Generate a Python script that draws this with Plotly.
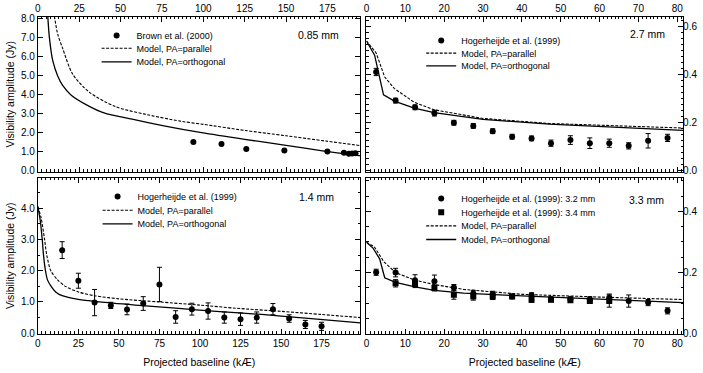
import plotly.graph_objects as go

# ---- 0.85 mm (Brown et al. 2000) ----
b085_x = [94, 111, 126, 149, 175, 185, 188, 190, 192]
b085_y = [1.52, 1.41, 1.15, 1.07, 1.02, 0.95, 0.90, 0.91, 0.93]
b085_err = [0.03, 0.03, 0.03, 0.03, 0.03, 0.03, 0.03, 0.03, 0.03]
m085_par_x = [10, 12, 15, 21, 31, 47, 64, 86, 100, 125, 150, 174, 196]
m085_par_y = [8.15, 7.2, 6.45, 5.1, 4.15, 3.38, 3.0, 2.62, 2.45, 2.13, 1.85, 1.57, 1.32]
m085_ort_x = [6, 7, 9, 12, 15, 20, 30, 40, 57, 77, 99, 125, 149, 174, 196]
m085_ort_y = [8.15, 7.0, 5.8, 5.0, 4.5, 4.0, 3.45, 3.05, 2.72, 2.36, 2.01, 1.66, 1.36, 1.03, 0.78]

# ---- 2.7 mm (Hogerheijde et al. 1999) ----
h27_x = [2.5, 7.5, 12.5, 17.5, 22.5, 27.5, 32.5, 37.5, 42.5, 47.5, 52.5, 57.5, 62.5, 67.5, 72.5, 77.5]
h27_y = [0.41, 0.291, 0.263, 0.239, 0.199, 0.186, 0.164, 0.141, 0.134, 0.114, 0.127, 0.114, 0.114, 0.103, 0.124, 0.136]
h27_err = [0.015, 0.01, 0.01, 0.012, 0.01, 0.01, 0.01, 0.01, 0.01, 0.013, 0.018, 0.022, 0.017, 0.013, 0.03, 0.015]
m27_par_x = [0, 2.5, 4.7, 7.2, 12.3, 17.4, 30, 47, 81.5]
m27_par_y = [0.539, 0.489, 0.389, 0.341, 0.284, 0.253, 0.217, 0.196, 0.177]
m27_ort_x = [0, 2.1, 4.4, 7.2, 12.3, 17.4, 30, 47, 81.5]
m27_ort_y = [0.539, 0.48, 0.315, 0.289, 0.26, 0.241, 0.213, 0.193, 0.167]

# ---- 1.4 mm (Hogerheijde et al. 1999) ----
h14_x = [15, 25, 35, 45, 55, 65, 75, 85, 95, 105, 115, 125, 135, 145, 155, 165, 175]
h14_y = [2.66, 1.68, 0.98, 0.89, 0.76, 0.95, 1.56, 0.52, 0.77, 0.71, 0.50, 0.45, 0.50, 0.77, 0.47, 0.28, 0.22]
h14_err = [0.27, 0.24, 0.42, 0.10, 0.17, 0.22, 0.55, 0.20, 0.19, 0.26, 0.18, 0.20, 0.18, 0.18, 0.12, 0.13, 0.13]
m14_par_x = [0, 2, 4, 5.5, 8, 12, 17, 25, 35, 50, 75, 100, 122, 150, 175, 199]
m14_par_y = [4.05, 3.7, 3.05, 2.5, 2.0, 1.72, 1.5, 1.32, 1.2, 1.1, 1.0, 0.9, 0.8, 0.7, 0.6, 0.5]
m14_ort_x = [0, 1.5, 2.7, 3.5, 4.7, 6, 8.2, 11, 15, 25, 38, 60, 85, 110, 138, 165, 199]
m14_ort_y = [4.05, 3.6, 3.0, 2.5, 2.0, 1.7, 1.5, 1.32, 1.2, 1.08, 1.0, 0.9, 0.8, 0.7, 0.6, 0.48, 0.33]

# ---- 3.3 mm (Hogerheijde et al. 1999: 3.2 mm and 3.4 mm) ----
h32_x = [2.5, 7.5, 12.5, 17.5, 22.5, 27.5, 32.5, 37.5, 42.5, 47.5, 52.5, 57.5, 62.5, 67.5, 72.5, 77.5]
h32_y = [0.201, 0.2, 0.175, 0.172, 0.151, 0.132, 0.129, 0.122, 0.126, 0.113, 0.113, 0.113, 0.118, 0.107, 0.102, 0.075]
h32_err = [0.01, 0.014, 0.018, 0.02, 0.01, 0.01, 0.01, 0.007, 0.008, 0.008, 0.008, 0.008, 0.012, 0.02, 0.01, 0.01]
h34_x = [7.5, 12.5, 17.5, 22.5, 27.5, 32.5, 37.5, 42.5, 47.5, 52.5, 57.5, 62.5]
h34_y = [0.165, 0.163, 0.15, 0.128, 0.122, 0.122, 0.122, 0.111, 0.111, 0.11, 0.107, 0.107]
h34_err = [0.012, 0.012, 0.01, 0.015, 0.012, 0.01, 0.006, 0.008, 0.006, 0.006, 0.006, 0.02]
m33_par_x = [0, 2, 4.5, 7.5, 12.5, 17.5, 25, 40, 60, 81.5]
m33_par_y = [0.299, 0.285, 0.235, 0.2, 0.175, 0.161, 0.145, 0.129, 0.12, 0.112]
m33_ort_x = [0, 1.7, 3.4, 4.7, 7.5, 12.5, 17.5, 25, 40, 60, 81.5]
m33_ort_y = [0.299, 0.28, 0.245, 0.183, 0.168, 0.153, 0.142, 0.133, 0.124, 0.114, 0.102]

FONT = "Liberation Sans, Arial, sans-serif"
FW, FH = 703, 373


def px(sx):
    return sx / FW


def py(sy):
    return 1 - sy / FH


fig = go.Figure()
legends = {}


def add_legend(key, left, row_center):
    # one legend per entry so rows can sit closer than plotly's 19px minimum
    legends[key] = dict(x=px(left), y=py(row_center - 14.5), xanchor="left", yanchor="top",
                        font=dict(size=9, color="black", family=FONT), bgcolor="rgba(0,0,0,0)",
                        borderwidth=0, itemwidth=30)


def data_trace(x, y, err, name, xa, ya, leg, symbol="circle"):
    return go.Scatter(x=x, y=y, mode="markers", name=name, xaxis=xa, yaxis=ya, legend=leg,
                      marker=dict(color="black", size=6, symbol=symbol),
                      error_y=dict(type="data", array=err, color="black", thickness=1, width=2.5))


def model_trace(x, y, dash, name, xa, ya, leg, shape):
    return go.Scatter(x=x, y=y, mode="lines", name=name, xaxis=xa, yaxis=ya, legend=leg,
                      line=dict(color="black", width=1.1 if dash != "solid" else 1.3,
                                dash=dash, shape=shape, smoothing=0.8))


DASH = "3px,1.5px"
# panel 1
fig.add_trace(data_trace(b085_x, b085_y, b085_err, "Brown et al. (2000)", "x", "y", "legend"))
fig.add_trace(model_trace(m085_par_x, m085_par_y, DASH, "Model, PA=parallel", "x", "y", "legend2", "spline"))
fig.add_trace(model_trace(m085_ort_x, m085_ort_y, "solid", "Model, PA=orthogonal", "x", "y", "legend3", "spline"))
add_legend("legend", 94, 33)
add_legend("legend2", 94, 46)
add_legend("legend3", 94, 60)
# panel 2
fig.add_trace(data_trace(h27_x, h27_y, h27_err, "Hogerheijde et al. (1999)", "x2", "y2", "legend4"))
fig.add_trace(model_trace(m27_par_x, m27_par_y, DASH, "Model, PA=parallel", "x2", "y2", "legend5", "linear"))
fig.add_trace(model_trace(m27_ort_x, m27_ort_y, "solid", "Model, PA=orthogonal", "x2", "y2", "legend6", "linear"))
add_legend("legend4", 420, 38)
add_legend("legend5", 420, 51)
add_legend("legend6", 420, 64)
# panel 3
fig.add_trace(data_trace(h14_x, h14_y, h14_err, "Hogerheijde et al. (1999)", "x3", "y3", "legend7"))
fig.add_trace(model_trace(m14_par_x, m14_par_y, DASH, "Model, PA=parallel", "x3", "y3", "legend8", "spline"))
fig.add_trace(model_trace(m14_ort_x, m14_ort_y, "solid", "Model, PA=orthogonal", "x3", "y3", "legend9", "spline"))
add_legend("legend7", 95, 198)
add_legend("legend8", 95, 212)
add_legend("legend9", 95, 226)
# panel 4
fig.add_trace(data_trace(h32_x, h32_y, h32_err, "Hogerheijde et al. (1999): 3.2 mm", "x4", "y4", "legend10"))
fig.add_trace(data_trace(h34_x, h34_y, h34_err, "Hogerheijde et al. (1999): 3.4 mm", "x4", "y4", "legend11", "square"))
fig.add_trace(model_trace(m33_par_x, m33_par_y, DASH, "Model, PA=parallel", "x4", "y4", "legend12", "linear"))
fig.add_trace(model_trace(m33_ort_x, m33_ort_y, "solid", "Model, PA=orthogonal", "x4", "y4", "legend13", "linear"))
add_legend("legend10", 420, 200)
add_legend("legend11", 420, 214)
add_legend("legend12", 420, 228)
add_legend("legend13", 420, 242)


def ax(**kw):
    minor_dtick = kw.pop("minor_dtick", None)
    d = dict(showline=True, linecolor="black", linewidth=1, mirror="allticks", ticks="inside",
             ticklen=5, tickcolor="black", tickwidth=1, showgrid=False, zeroline=False,
             tickfont=dict(size=10, color="black", family=FONT), tick0=0)
    if minor_dtick:
        d["minor"] = dict(ticks="inside", ticklen=2.5, tickcolor="black", dtick=minor_dtick,
                          tick0=0, showgrid=False)
    d.update(kw)
    return d


xl = [px(35), px(359)]
xr = [px(365), px(683)]
yt = [py(173), py(14)]
yb = [py(339), py(179)]

ytitle = dict(text="Visibility amplitude (Jy)", font=dict(size=10.5, color="black", family=FONT), standoff=4)
xtitle = dict(text="Projected baseline (kÆ)", font=dict(size=10.5, color="black", family=FONT), standoff=10)

fig.update_layout(
    width=FW, height=FH,
    margin=dict(l=0, r=0, t=0, b=0),
    paper_bgcolor="white", plot_bgcolor="white",
    font=dict(family=FONT, color="black", size=10),
    xaxis=ax(domain=xl, range=[0, 195], dtick=25, minor_dtick=2.5, side="top", anchor="y"),
    yaxis=ax(domain=yt, range=[-0.05, 8.12], dtick=1, tickformat=".1f", anchor="x", title=ytitle),
    xaxis2=ax(domain=xr, range=[0, 81.5], dtick=10, minor_dtick=1, side="top", anchor="y2"),
    yaxis2=ax(domain=yt, range=[-0.005, 0.64], dtick=0.2, minor_dtick=0.025, tickformat=".1f",
              side="right", anchor="x2", ticklabelstandoff=-3),
    xaxis3=ax(domain=xl, range=[0, 199], dtick=25, minor_dtick=2.5, anchor="y3", title=xtitle),
    yaxis3=ax(domain=yb, range=[-0.02, 4.98], dtick=1, minor_dtick=0.5, tickformat=".1f",
              anchor="x3", title=ytitle),
    xaxis4=ax(domain=xr, range=[0, 81.5], dtick=10, minor_dtick=1, anchor="y4", title=xtitle),
    yaxis4=ax(domain=yb, range=[0, 0.51], dtick=0.2, minor_dtick=0.05, tickformat=".1f",
              side="right", anchor="x4", ticklabelstandoff=-3),
    showlegend=True,
    **legends,
)

labels = [("0.85 mm", 317, 33), ("2.7 mm", 647, 32), ("1.4 mm", 315, 199), ("3.3 mm", 646, 202)]
for txt, sx, sy in labels:
    fig.add_annotation(text=txt, xref="paper", yref="paper", x=px(sx), y=py(sy),
                       xanchor="center", yanchor="middle", showarrow=False,
                       font=dict(size=10.5, color="black", family=FONT))

# drop the page's default body margin so the figure sits at the window's top-left corner
fig.write_html("out.html", config={"displayModeBar": False},
               post_script="document.body.style.margin='0px';"
                           "document.body.style.overflow='hidden';")
